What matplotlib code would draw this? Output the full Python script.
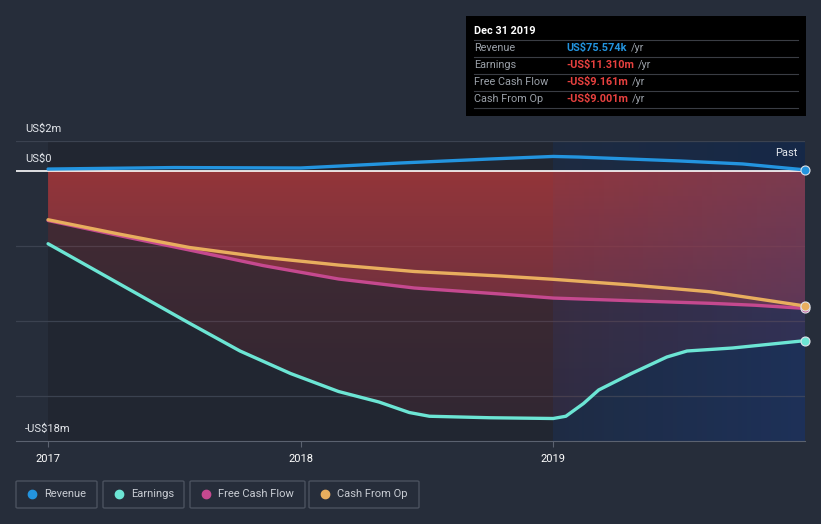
import numpy as np
import matplotlib
matplotlib.use("Agg")
import matplotlib.pyplot as plt
from matplotlib.patches import FancyBboxPatch, Rectangle, PathPatch
from matplotlib.path import Path as MPath

plt.rcParams['font.family'] = ['Roboto', 'DejaVu Sans']

# ---- data (US$ millions, trailing twelve months) ----
rev_t = [2017.0, 2017.5, 2018.0, 2018.39, 2018.75, 2019.0, 2019.1, 2019.5, 2019.75, 2019.997]
revenue = [0.13, 0.23, 0.2, 0.53, 0.8, 0.97, 0.93, 0.67, 0.47, 0.076]

earn_t = [2017.0, 2017.28, 2017.56, 2017.76, 2017.96, 2018.15, 2018.31, 2018.43, 2018.51,
          2018.75, 2019.0, 2019.05, 2019.12, 2019.18, 2019.31, 2019.45, 2019.53, 2019.71,
          2019.997]
earnings = [-4.85, -7.5, -10.15, -12.0, -13.5, -14.7, -15.4, -16.1, -16.35,
            -16.45, -16.5, -16.35, -15.5, -14.6, -13.5, -12.4, -12.0, -11.8,
            -11.31]

cf_t = [2017.0, 2017.28, 2017.56, 2017.85, 2018.15, 2018.45, 2018.79, 2019.0,
        2019.31, 2019.62, 2019.8, 2019.997]
fcf = [-3.3, -4.3, -5.27, -6.3, -7.2, -7.8, -8.2, -8.47, -8.65, -8.82, -8.95, -9.161]
cfo = [-3.25, -4.2, -5.1, -5.75, -6.27, -6.7, -7.0, -7.22, -7.6, -8.05, -8.5, -9.001]

years = [2017, 2018, 2019]
series_names = ["Revenue", "Earnings", "Free Cash Flow", "Cash From Op"]
tip_values = ["US$75.574k", "-US$11.310m", "-US$9.161m", "-US$9.001m"]

BG = "#262d3a"
C_REV, C_EARN, C_FCF, C_CFO = "#2394df", "#6ce5d4", "#c5498f", "#e8ae5e"

W, H = 821, 524
fig = plt.figure(figsize=(W / 100, H / 100), dpi=100, facecolor=BG)
ax = fig.add_axes([16 / W, (H - 441) / H, (805 - 16) / W, 300 / H])
ax.set_facecolor(BG)
XMIN, XMAX = 2016.873, 2019.997
ax.set_xlim(XMIN, XMAX); ax.set_ylim(-18, 2)

# background bands
ax.axvspan(2017, 2019, color="#1d222b", alpha=0.55, lw=0, zorder=0)
hg = np.linspace(0, 1, 256)[None, :]
past = np.zeros((1, 256, 4))
past[..., 0], past[..., 1], past[..., 2] = 0.08, 0.16, 0.29
past[..., 3] = 0.45 + 0.45 * hg
ax.imshow(past, extent=[2019, XMAX, -18, 2], aspect="auto", zorder=0,
          interpolation="bilinear")

# gridlines
for g in [2, -5, -10, -15]:
    ax.axhline(g, color="#3b4250", lw=0.9, zorder=1)


def grad_fill(x, y, top_rgba, bot_rgba, z):
    x = np.asarray(x); y = np.asarray(y)
    verts = [(x[0], 0)] + list(zip(x, y)) + [(x[-1], 0), (x[0], 0)]
    patch = PathPatch(MPath(verts), facecolor="none", edgecolor="none")
    ax.add_patch(patch)
    grad = np.linspace(0, 1, 256)[:, None]
    top = np.array(top_rgba); bot = np.array(bot_rgba)
    img = top[None, None, :] * (1 - grad[:, :, None]) + bot[None, None, :] * grad[:, :, None]
    im = ax.imshow(img, extent=[x[0], x[-1], min(y), 0], aspect="auto",
                   origin="upper", zorder=z, interpolation="bilinear")
    im.set_clip_path(patch)


grad_fill(earn_t, earnings, (0.62, 0.22, 0.24, 0.30), (0.55, 0.18, 0.22, 0.16), 2)
grad_fill(cf_t, fcf, (0.66, 0.22, 0.23, 0.80), (0.62, 0.22, 0.28, 0.55), 3)

# past overlay tint
tint = np.zeros((1, 256, 4))
tint[..., 0], tint[..., 1], tint[..., 2] = 0.22, 0.30, 0.55
tint[..., 3] = 0.05 + 0.2 * hg
ax.imshow(tint, extent=[2019, XMAX, -18, 0], aspect="auto", zorder=4,
          interpolation="bilinear")
ax.set_xlim(XMIN, XMAX); ax.set_ylim(-18, 2)

ax.axhline(0, color="#ffffff", lw=1.2, zorder=5)

for xs, ys, c in [(rev_t, revenue, C_REV), (earn_t, earnings, C_EARN),
                  (cf_t, fcf, C_FCF), (cf_t, cfo, C_CFO)]:
    ax.plot(xs, ys, color=c, lw=2.4, zorder=6, solid_capstyle="round",
            solid_joinstyle="round")
    ax.plot(xs[-1], ys[-1], "o", ms=6.5, color=c, mec="#dfe3ea", mew=0.8,
            zorder=7, clip_on=False)

for s in ["top", "right", "left"]:
    ax.spines[s].set_visible(False)
ax.spines["bottom"].set_color("#5b6270")
ax.set_yticks([])
ax.set_xticks(years)
ax.set_xticklabels([str(y) for y in years], color="#ffffff", fontsize=8)
ax.tick_params(axis="x", length=4, color="#5b6270", pad=5)


def fy(py):
    return (H - py) / H


# y labels
fig.text(25 / W, fy(129), "US$2m", color="#e4e7ec", fontsize=8, va="center")
fig.text(25 / W, fy(159), "US$0", color="#e4e7ec", fontsize=8, va="center")
fig.text(25 / W, fy(429), "-US$18m", color="#e4e7ec", fontsize=8, va="center")
fig.text(797 / W, fy(153), "Past", color="#e4e7ec", fontsize=8, va="center", ha="right")

# tooltip box
fig.patches.append(Rectangle((466 / W, fy(116)), 340 / W, 100 / H,
                             transform=fig.transFigure, facecolor="#000000",
                             edgecolor="none", zorder=10))
fig.text(474 / W, fy(31), "Dec 31 2019", color="#ffffff", fontsize=7.8,
         fontweight="bold", va="center", zorder=11)
for yy in [40, 57, 74, 91, 108]:
    fig.add_artist(plt.Line2D([474 / W, 798 / W], [fy(yy), fy(yy)],
                              color="#3a3d44", lw=0.8, zorder=11))
fig.canvas.draw()
renderer = fig.canvas.get_renderer()
val_colors = [C_REV, "#e8413f", "#e8413f", "#e8413f"]
for i, (name, val) in enumerate(zip(series_names, tip_values)):
    ry = fy(48 + 17 * i)
    fig.text(474 / W, ry, name, color="#9aa0a8", fontsize=7.8, va="center", zorder=11)
    t = fig.text(566 / W, ry, val, color=val_colors[i], fontsize=7.8,
                 fontweight="bold", va="center", zorder=11)
    bb = t.get_window_extent(renderer)
    fig.text(bb.x1 / W + 4 / W, ry, "/yr", color="#9aa0a8", fontsize=7.8,
             va="center", zorder=11)

# legend boxes
legend_boxes = [(16, 97), (103, 184), (190, 305), (309, 419)]
leg_colors = [C_REV, C_EARN, C_FCF, C_CFO]
for (x0, x1), name, c in zip(legend_boxes, series_names, leg_colors):
    fig.patches.append(FancyBboxPatch((x0 / W, fy(508)), (x1 - x0) / W, 27 / H,
                                      boxstyle="round,pad=0,rounding_size=0.002",
                                      transform=fig.transFigure, facecolor="none",
                                      edgecolor="#4a515e", lw=1))
    fig.add_artist(plt.Line2D([(x0 + 16) / W], [fy(494)], marker="o", ms=6,
                              color=c, mec=c))
    fig.text((x0 + 28) / W, fy(494), name, color="#c8ccd3", fontsize=8, va="center")

fig.savefig("out.png", dpi=100, facecolor=BG)
